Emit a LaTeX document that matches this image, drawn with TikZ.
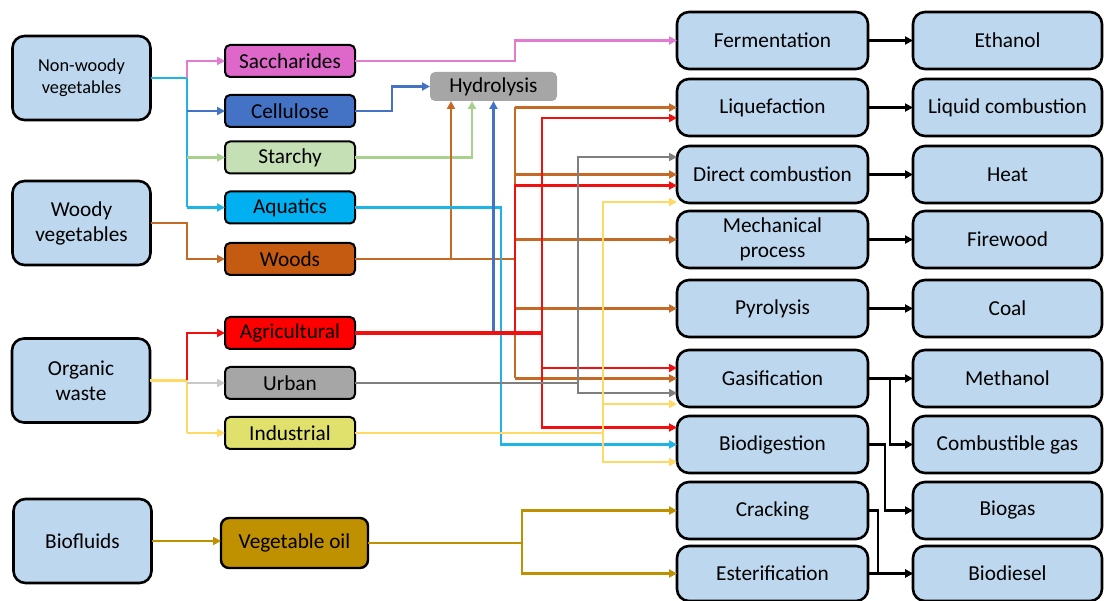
\documentclass[tikz,border=0pt]{standalone}
\usepackage{fontspec}
\setmainfont{Carlito}
\usepackage{tikz}
\usetikzlibrary{arrows.meta,positioning}
\definecolor{boxblue}{HTML}{BDD7EE}
\definecolor{sacch}{HTML}{DE68CA}
\definecolor{cellu}{HTML}{4472C4}
\definecolor{starch}{HTML}{C5E0B4}
\definecolor{aquat}{HTML}{00B0F0}
\definecolor{woods}{HTML}{C55A11}
\definecolor{agri}{HTML}{FF0000}
\definecolor{urban}{HTML}{A6A6A6}
\definecolor{indus}{HTML}{E0E06C}
\definecolor{vegoil}{HTML}{BF9000}
\definecolor{csacc}{HTML}{E27CD0}
\definecolor{ccell}{HTML}{4472C4}
\definecolor{cstar}{HTML}{A9D18E}
\definecolor{caqua}{HTML}{1EB4E6}
\definecolor{cwood}{HTML}{C46A26}
\definecolor{cagr}{HTML}{F01010}
\definecolor{curb}{HTML}{7F7F7F}
\definecolor{curbl}{HTML}{C9C9C9}
\definecolor{cind}{HTML}{FFD966}
\definecolor{coil}{HTML}{BF9000}

\begin{document}
\begin{tikzpicture}[x=1pt,y=-1pt,
  font=\fontsize{21.3}{25}\selectfont,node distance=10pt and 45pt,
  src/.style={draw=black,line width=2.6pt,fill=boxblue,rounded corners=12pt,align=center,minimum width=138pt,minimum height=84pt,inner sep=0pt,outer sep=0pt},
  kind/.style={draw=black,line width=2pt,rounded corners=5pt,align=center,minimum width=130pt,minimum height=32pt,inner sep=0pt,outer sep=0pt},
  proc/.style={draw=black,line width=2.6pt,fill=boxblue,rounded corners=12pt,align=center,minimum width=191pt,minimum height=57pt,inner sep=0pt,outer sep=0pt},
  prod/.style={proc,minimum width=189pt},
  ln/.style={line width=2.6pt},
  arr/.style={ln,-{Triangle[length=8pt,width=8pt]}}]
\useasboundingbox (0,0) rectangle (1104,601);
\node[src,font=\fontsize{18.3}{22}\selectfont] (nwv) at (81.5,78) {Non-woody\\vegetables};
\node[src] (wv) at (81.5,223) {Woody\\vegetables};
\node[src] (ow) at (81,380.5) {Organic\\waste};
\node[src] (bf) at (82.5,541) {Biofluids};
\node[kind,fill=sacch] (sac) at (290,61) {Saccharides};
\node[kind,fill=cellu] (cel) at (290,111) {Cellulose};
\node[kind,fill=starch] (sta) at (290,157.5) {Starchy};
\node[kind,fill=aquat] (aqu) at (290,207.5) {Aquatics};
\node[kind,fill=woods] (woo) at (290,259) {Woods};
\node[kind,fill=agri] (agr) at (290,333) {Agricultural};
\node[kind,fill=urban] (urb) at (290,383) {Urban};
\node[kind,fill=indus] (ind) at (290,433) {Industrial};
\node[kind,fill=vegoil,minimum width=147pt,minimum height=50pt,line width=2.4pt,rounded corners=8pt] (oil) at (294.5,543) {Vegetable oil};
\node[fill=urban,rounded corners=5pt,minimum width=127pt,minimum height=29pt,inner sep=0pt,outer sep=0pt] (hyd) at (493.5,86.5) {Hydrolysis};
\node[proc] (fer) at (772.5,40.5) {Fermentation};
\node[proc,below=of fer] (liq) {Liquefaction};
\node[proc,below=of liq] (dir) {Direct combustion};
\node[proc,below=8pt of dir] (mec) {Mechanical\\process};
\node[proc,below=12pt of mec] (pyr) {Pyrolysis};
\node[proc,below=13pt of pyr] (gas) {Gasification};
\node[proc,below=9pt of gas] (bio) {Biodigestion};
\node[proc,below=9pt of bio] (cra) {Cracking};
\node[proc,below=7pt of cra,minimum height=55pt] (est) {Esterification};
\node[prod,right=of fer] (eth) {Ethanol};
\node[prod,right=of liq] (lco) {Liquid combustion};
\node[prod,right=of dir] (hea) {Heat};
\node[prod,right=of mec] (fir) {Firewood};
\node[prod,right=of pyr] (coa) {Coal};
\node[prod,right=of gas] (met) {Methanol};
\node[prod,right=of bio] (cgs) {Combustible gas};
\node[prod,right=of cra] (bgs) {Biogas};
\node[prod,right=of est,minimum height=55pt] (bdi) {Biodiesel};
\coordinate (tn) at (187,0);
\coordinate (bc) at (501,0);
\coordinate (bw) at (515,0);
\coordinate (bo) at (522,0);
\coordinate (br) at (542,0);
\coordinate (bg) at (578,0);
\coordinate (bi) at (603,0);
% sources to kinds
\draw[ln,caqua] (nwv.east) -- (nwv.east -| tn) -- (tn |- aqu.west);
\draw[arr,caqua] (tn |- aqu.west) -- (aqu.west);
\draw[arr,csacc] (nwv.east -| tn) |- (sac.west);
\draw[arr,ccell] (tn |- cel.west) -- (cel.west);
\draw[arr,cstar] (tn |- sta.west) -- (sta.west);
\draw[arr,cwood] (wv.east) -- (wv.east -| tn) |- (woo.west);
\draw[ln,cind] (ow.east) -- (ow.east -| tn) -- (tn |- ind.west);
\draw[arr,cind] (tn |- ind.west) -- (ind.west);
\draw[arr,cagr] (ow.east -| tn) |- (agr.west);
\draw[arr,curbl] (tn |- urb.west) -- (urb.west);
\draw[arr,coil] (bf.east) -- (bf.east -| oil.west);
% kinds to processes
\draw[arr,csacc] (sac.east) -- (sac.east -| bw) |- (fer.west);
\draw[arr,ccell] (cel.east) -- ++(37,0) |- (hyd.west);
\draw[arr,cstar] (sta.east) -| ([xshift=-21.5pt]hyd.south);
\draw[arr,cwood] (woo.east) -| ([xshift=-42.5pt]hyd.south);
\draw[ln,cwood] (woo.east) -- (woo.east -| bw);
\draw[ln,cwood] (bw |- liq.west) -- (bw |- gas.west);
\foreach \t in {liq,dir,mec,pyr,gas}
  \draw[arr,cwood] (bw |- \t.west) -- (\t.west);
\draw[arr,caqua] (aqu.east) -- (aqu.east -| bc) |- (bio.west);
\draw[arr,ccell] (hyd.south |- agr.east) -- (hyd.south);
\draw[ln,cagr,line width=4.5pt] (agr.east) -- (agr.east -| br);
\draw[arr,cagr] (agr.east -| bw) |- ([yshift=-11pt]dir.west);
\draw[arr,cagr] (agr.east -| br) |- ([yshift=-10.5pt]liq.west);
\draw[arr,cagr] (agr.east -| br) |- ([yshift=10.5pt]gas.west);
\draw[arr,cagr] (agr.east -| br) |- ([yshift=17pt]bio.west);
\draw[ln,curb] (urb.east) -- (urb.east -| bg);
\draw[arr,curb] (urb.east -| bg) |- ([yshift=17.5pt]dir.west);
\draw[arr,curb] (urb.east -| bg) |- ([yshift=-14.5pt]gas.west);
\draw[ln,cind] (ind.east) -- (ind.east -| bi);
\draw[arr,cind] (ind.east -| bi) |- ([yshift=-27.5pt]dir.west);
\draw[arr,cind] (ind.east -| bi) |- ([yshift=-25.5pt]gas.west);
\draw[arr,cind] (ind.east -| bi) |- ([yshift=-17.5pt]bio.west);
\draw[ln,coil] (oil.east) -- (oil.east -| bo);
\draw[arr,coil] (oil.east -| bo) |- (cra.west);
\draw[arr,coil] (oil.east -| bo) |- (est.west);
% processes to products
\foreach \a/\b in {fer/eth,liq/lco,dir/hea,mec/fir,pyr/coa,gas/met,est/bdi}
  \draw[arr] (\a) -- (\b);
\draw[arr] (gas.east) -- ++(22,0) |- (cgs.west);
\draw[arr] (bio.east) -- ++(17,0) |- (bgs.west);
\draw[arr] (cra.east) -- ++(10,0) |- (bdi.west);
\end{tikzpicture}
\end{document}
